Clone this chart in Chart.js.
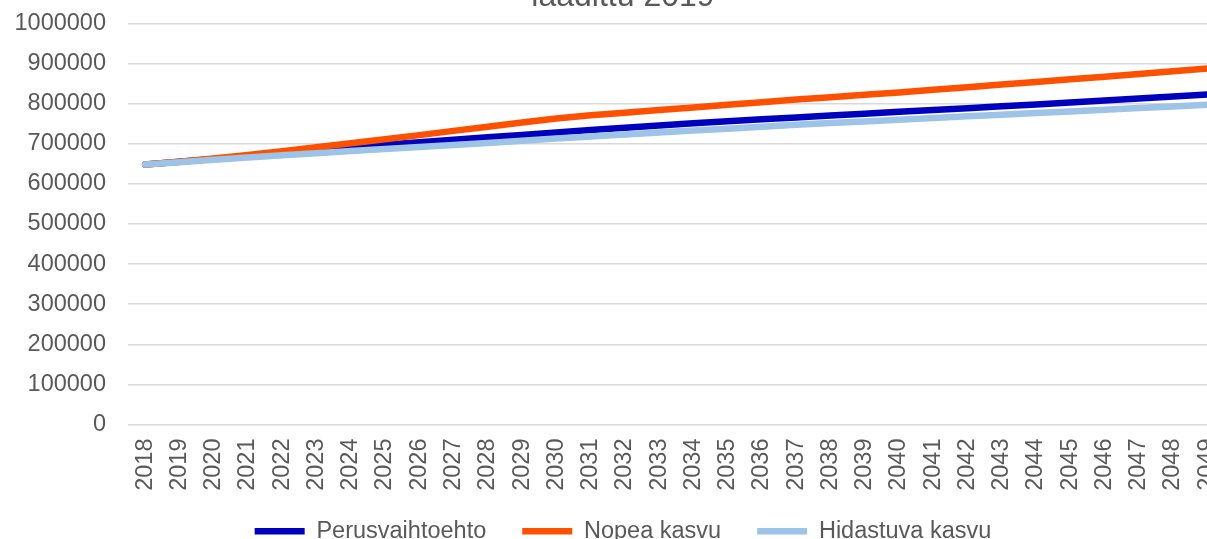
<!DOCTYPE html>
<html>
<head>
<meta charset="utf-8">
<script src="https://cdn.jsdelivr.net/npm/chart.js@4.4.1/dist/chart.umd.min.js"></script>
<style>
  html, body { margin: 0; padding: 0; background: #ffffff; overflow: hidden; width: 1207px; height: 539px; }
  #wrap { position: absolute; left: 0; top: -32px; width: 1268px; height: 596px; }
</style>
</head>
<body>
<div id="wrap"><canvas id="c" width="1268" height="596"></canvas></div>
<script>
const years = ['2018','2019','2020','2021','2022','2023','2024','2025','2026','2027','2028','2029','2030','2031','2032','2033','2034','2035','2036','2037','2038','2039','2040','2041','2042','2043','2044','2045','2046','2047','2048','2049'];

const perusvaihtoehto = [648000,655000,662000,669000,676000,683000,690500,697500,704000,710000,716000,722000,728000,734000,740000,745500,751000,756000,761000,765500,770500,775000,779500,784000,788500,793500,798000,803000,808000,812500,817500,822500];

const nopeaKasvu = [648000,655000,663000,672000,681000,691000,701000,711000,721500,732000,742500,753000,763000,771000,777500,784000,790500,797000,803500,810000,816000,822000,828000,834500,841000,847500,854000,860500,867000,874000,880500,887500];

const hidastuvaKasvu = [648000,654000,660000,665500,671000,676500,682000,687000,692000,697000,702000,707500,713000,718000,723000,728000,733000,737500,742500,747500,751500,755500,760000,764000,768500,772500,776500,780500,785000,789000,793000,797000];

const seriesLabels = ['Perusvaihtoehto', 'Nopea kasvu', 'Hidastuva kasvu'];
const titleText = 'laadittu 2019';
const Y_MIN = 0, Y_MAX = 1000000, Y_STEP = 100000;

const FONT = '"Liberation Sans", Arial, sans-serif';
const TXT = '#595959';

// Shift the title and legend boxes (the Excel chart is centred on a wider frame)
const boxShift = {
  id: 'boxShift',
  afterLayout(chart) {
    const dx = 10.8;
    if (chart.legend) {
      chart.legend.top -= 11; chart.legend.bottom -= 11;
      chart.legend.left += dx; chart.legend.right += dx;
    }
    if (chart.titleBlock) {
      chart.titleBlock.left += dx; chart.titleBlock.right += dx;
    }
  }
};

new Chart(document.getElementById('c'), {
  type: 'line',
  data: {
    labels: years,
    datasets: [
      { label: seriesLabels[0], data: perusvaihtoehto, borderColor: '#0000BF', backgroundColor: '#0000BF', order: 3 },
      { label: seriesLabels[1], data: nopeaKasvu, borderColor: '#FF5000', backgroundColor: '#FF5000', order: 2 },
      { label: seriesLabels[2], data: hidastuvaKasvu, borderColor: '#9DC3E6', backgroundColor: '#9DC3E6', order: 1 }
    ].map(d => Object.assign(d, { borderWidth: 6.5, pointRadius: 0, tension: 0, fill: false, borderCapStyle: 'round', borderJoinStyle: 'round' }))
  },
  options: {
    responsive: false,
    animation: false,
    layout: { padding: { left: 0, right: 43.6, top: 0, bottom: 0 } },
    plugins: {
      title: {
        display: true,
        text: titleText,
        color: TXT,
        font: { family: FONT, size: 32, weight: 'normal' },
        padding: { top: 10, bottom: 7 }
      },
      legend: {
        position: 'bottom',
        reverse: true,
        labels: {
          usePointStyle: true,
          pointStyle: 'line',
          pointStyleWidth: 50,
          padding: 36,
          color: TXT,
          font: { family: FONT, size: 23.5 }
        }
      },
      tooltip: { enabled: false }
    },
    scales: {
      x: {
        offset: true,
        grid: { display: false, drawTicks: false },
        border: { display: false },
        ticks: {
          autoSkip: false,
          minRotation: 90,
          maxRotation: 90,
          padding: 14,
          color: TXT,
          font: { family: FONT, size: 23.5 }
        },
        afterFit: s => { s.height = 70; }
      },
      y: {
        min: Y_MIN,
        max: Y_MAX,
        grid: { color: '#d9d9d9', lineWidth: 1.5, drawTicks: false },
        border: { display: false },
        ticks: {
          stepSize: Y_STEP,
          padding: 22,
          color: TXT,
          font: { family: FONT, size: 23.5 },
          callback: v => String(v)
        },
        afterFit: s => { s.width = 128; }
      }
    }
  },
  plugins: [boxShift]
});
</script>
</body>
</html>
